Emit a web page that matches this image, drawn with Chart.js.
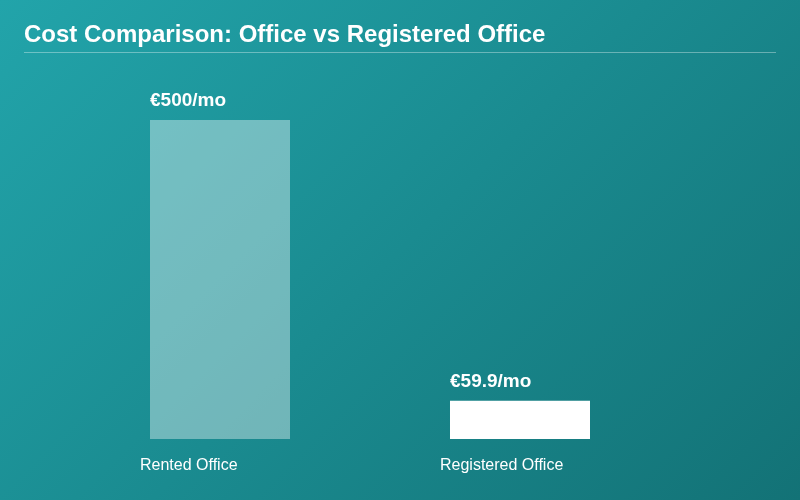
<!DOCTYPE html>
<html>
<head>
<style>
  html, body { margin: 0; padding: 0; }
  body { width: 800px; height: 500px; background: linear-gradient(135deg, #22a4aa 0%, #1a8b90 50%, #137276 100%); }
  #wrap { position: relative; width: 800px; height: 500px; }
</style>
<script src="https://cdn.jsdelivr.net/npm/chart.js@4.4.0/dist/chart.umd.min.js"></script>
</head>
<body>
<div id="wrap"><canvas id="c" width="800" height="500"></canvas></div>
<script>
const titleText = "Cost Comparison: Office vs Registered Office";
const categories = ["Rented Office", "Registered Office"];
const costs = [500, 59.9];
const valueLabels = ["€500/mo", "€59.9/mo"];

const labelPlugin = {
  id: "labels",
  afterDatasetsDraw(chart) {
    const ctx = chart.ctx;
    const meta = chart.getDatasetMeta(0);
    ctx.save();
    ctx.fillStyle = "#ffffff";
    ctx.textBaseline = "alphabetic";
    ctx.font = "bold 24px 'Liberation Sans', Arial, sans-serif";
    ctx.fillText(titleText, 24, 42);
    ctx.strokeStyle = "rgba(255,255,255,0.35)";
    ctx.lineWidth = 1;
    ctx.beginPath();
    ctx.moveTo(24, 52.5);
    ctx.lineTo(776, 52.5);
    ctx.stroke();
    meta.data.forEach((bar, i) => {
      const left = bar.x - bar.width / 2;
      ctx.font = "bold 19px 'Liberation Sans', Arial, sans-serif";
      ctx.fillText(valueLabels[i], left, bar.y - 14);
      ctx.font = "16px 'Liberation Sans', Arial, sans-serif";
      ctx.fillText(categories[i], left - 10, 470);
    });
    ctx.restore();
  }
};

new Chart(document.getElementById("c"), {
  type: "bar",
  data: {
    labels: categories,
    datasets: [{
      data: costs,
      backgroundColor: ["rgba(255,255,255,0.38)", "#ffffff"],
      borderWidth: 0,
      barPercentage: 0.4667,
      categoryPercentage: 1
    }]
  },
  options: {
    responsive: false,
    animation: false,
    layout: { padding: { left: 70, right: 130, top: 120, bottom: 61 } },
    plugins: { legend: { display: false }, tooltip: { enabled: false } },
    scales: {
      x: { display: false },
      y: { display: false, min: 0, max: 500 }
    }
  },
  plugins: [labelPlugin]
});
</script>
</body>
</html>
